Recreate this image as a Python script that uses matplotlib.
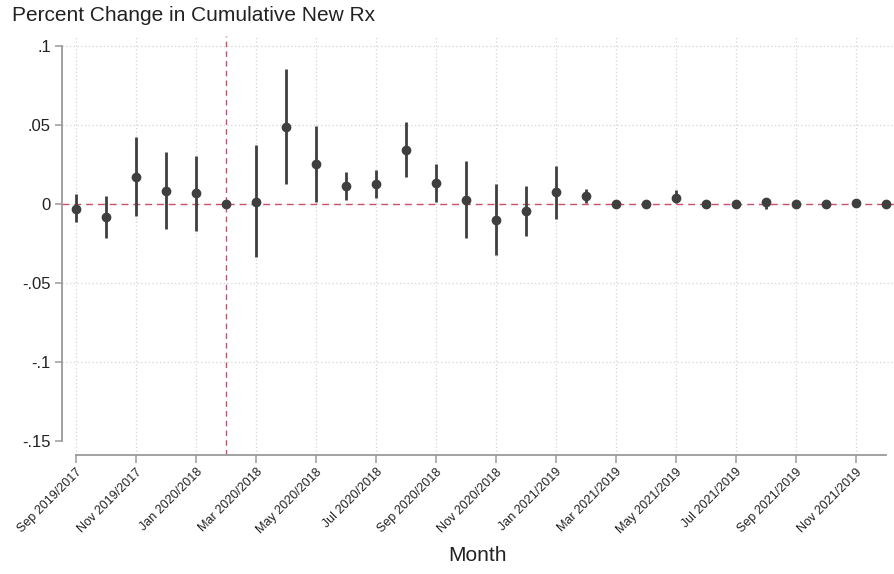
import numpy as np
import matplotlib.pyplot as plt

plt.rcParams['font.family'] = ['Liberation Sans', 'DejaVu Sans']

# event-study estimates by month, Sep 2019 .. Dec 2021 (vs two years earlier)
coef = [-0.0030, -0.0082, 0.0173, 0.0082, 0.0068, 0.0000, 0.0013, 0.0489,
        0.0253, 0.0114, 0.0127, 0.0344, 0.0133, 0.0027, -0.0101, -0.0046,
        0.0076, 0.0049, 0.0000, -0.0003, 0.0040, 0.0002, -0.0003, 0.0010,
        0.0000, 0.0000, 0.0003, 0.0000]
ci_lo = [-0.0114, -0.0213, -0.0074, -0.0160, -0.0169, 0.0000, -0.0338, 0.0125,
         0.0013, 0.0025, 0.0038, 0.0171, 0.0010, -0.0215, -0.0323, -0.0205,
         -0.0093, 0.0004, -0.0005, -0.0008, 0.0004, -0.0003, -0.0008, -0.0030,
         -0.0004, -0.0004, -0.0002, -0.0004]
ci_hi = [0.0060, 0.0049, 0.0426, 0.0327, 0.0304, 0.0000, 0.0376, 0.0856,
         0.0494, 0.0205, 0.0215, 0.0521, 0.0255, 0.0270, 0.0125, 0.0116,
         0.0241, 0.0097, 0.0005, 0.0002, 0.0090, 0.0007, 0.0002, 0.0040,
         0.0004, 0.0004, 0.0008, 0.0004]

tick_labels = ["Sep 2019/2017", "Nov 2019/2017", "Jan 2020/2018", "Mar 2020/2018",
               "May 2020/2018", "Jul 2020/2018", "Sep 2020/2018", "Nov 2020/2018",
               "Jan 2021/2019", "Mar 2021/2019", "May 2021/2019", "Jul 2021/2019",
               "Sep 2021/2019", "Nov 2021/2019"]
y_ticks = [0.1, 0.05, 0, -0.05, -0.1, -0.15]
y_tick_labels = [".1", ".05", "0", "-.05", "-.1", "-.15"]
event_month = 5  # Feb 2020/2018, reference period

x = np.arange(len(coef))
dark = '#3f3f3f'
ref_red = '#c8506a'
axis_gray = '#9a9a9a'

fig = plt.figure(figsize=(8.94, 5.74), dpi=100)
ax = fig.add_axes([62 / 894, 119 / 574, 832 / 894, 419 / 574])

ax.set_xlim(-0.467, 27.27)
ax.set_ylim(-0.1589, 0.1063)

# dotted grid
for yv in [0.1, 0.05, -0.05, -0.1]:
    ax.axhline(yv, color='#d4d4d4', lw=0.9, ls=(0, (1, 2)), zorder=0)
for xv in x[::2]:
    ax.axvline(xv, color='#d4d4d4', lw=0.9, ls=(0, (1, 2)), zorder=0)

# reference lines
ax.axhline(0, color=ref_red, lw=1.0, ls=(0, (5, 3.5)), zorder=1)
ax.axvline(event_month, color=ref_red, lw=1.0, ls=(0, (4, 3)), zorder=1)

# confidence intervals and point estimates
ax.vlines(x, ci_lo, ci_hi, color=dark, lw=2.0, zorder=2)
ax.plot(x, coef, 'o', color=dark, ms=6, zorder=3)

# axes styling
for s in ['top', 'right']:
    ax.spines[s].set_visible(False)
ax.spines['left'].set_bounds(-0.15, 0.1)
ax.spines['bottom'].set_bounds(0, 27)
for s in ['left', 'bottom']:
    ax.spines[s].set_color(axis_gray)
    ax.spines[s].set_linewidth(1.3)

ax.set_yticks(y_ticks)
ax.set_yticklabels(y_tick_labels, fontsize=12, color='#222222')
ax.set_xticks(x[::2])
ax.set_xticklabels(tick_labels, rotation=45, ha='right', rotation_mode='anchor',
                   fontsize=9, color='#222222')
ax.tick_params(axis='both', color=axis_gray, length=5, width=1.1, pad=3)
ax.tick_params(axis='x', length=6, pad=2)

ax.set_xlabel("Month", fontsize=15, color='#222222', va='top')
ax.xaxis.set_label_coords(0.5, -0.218)
fig.text(12 / 894, 1 - 6 / 574, "Percent Change in Cumulative New Rx",
         fontsize=15, color='#222222', ha='left', va='top')

fig.savefig("out.png", dpi=100)
